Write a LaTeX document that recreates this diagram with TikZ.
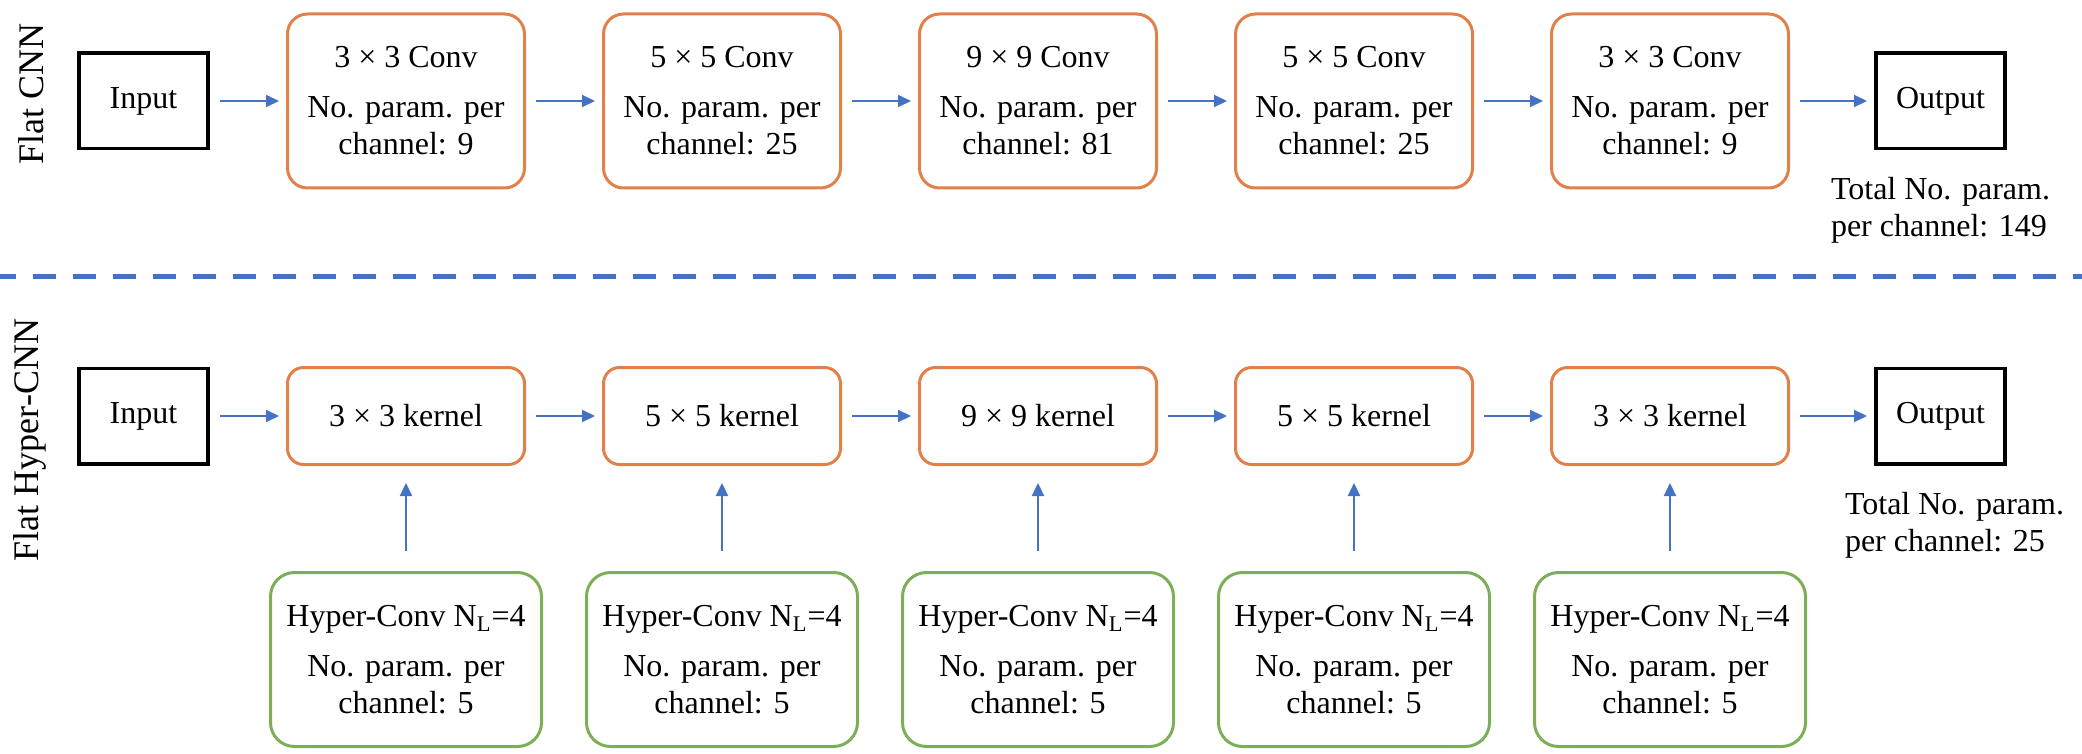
\documentclass[tikz,border=0pt]{standalone}
\usepackage{fontspec}
\setmainfont{Liberation Serif}
\newfontfamily\boxfont{Liberation Serif}
\usepackage{xcolor}
\usepackage{tikz}
\usetikzlibrary{arrows.meta,positioning}

\definecolor{convorange}{HTML}{E2804A}
\definecolor{hypgreen}{HTML}{7DAF58}
\definecolor{arrblue}{HTML}{4472C4}

\begin{document}
\begin{tikzpicture}[
  x=0.5pt, y=-0.5pt,
  node distance=38pt and 38pt,
  every node/.style={font=\boxfont\fontsize{16pt}{18.5pt}\selectfont},
  io/.style={draw, line width=1.8pt, minimum width=64.7pt, minimum height=47.7pt},
  conv/.style={draw=convorange, line width=1.5pt, rounded corners=10pt,
               align=center, minimum width=118.5pt, minimum height=87pt, inner sep=2pt},
  kern/.style={conv, rounded corners=8pt, minimum height=48.5pt},
  hyper/.style={conv, draw=hypgreen, rounded corners=12pt, minimum width=135.5pt},
  note/.style={align=left, inner sep=0pt},
  rowlab/.style={font=\boxfont\fontsize{18pt}{20pt}\selectfont, rotate=90, inner sep=0pt},
  arr/.style={-{Triangle[length=6.5pt,width=6pt]}, line width=1pt, draw=arrblue,
              shorten <=5pt, shorten >=3.5pt},
  uparr/.style={arr, shorten <=10pt, shorten >=8.5pt}
]
\useasboundingbox (0,0) rectangle (2082,754);

% top row: flat CNN
\node[rowlab] (labA) at (31,94) {Flat CNN};
\node[io] (inA) at (143.5,101) {Input};
\node[conv, right=of inA] (cA1) {3 × 3 Conv\\[6.5pt]No. param. per\\channel: 9};
\node[conv, right=of cA1] (cA2) {5 × 5 Conv\\[6.5pt]No. param. per\\channel: 25};
\node[conv, right=of cA2] (cA3) {9 × 9 Conv\\[6.5pt]No. param. per\\channel: 81};
\node[conv, right=of cA3] (cA4) {5 × 5 Conv\\[6.5pt]No. param. per\\channel: 25};
\node[conv, right=of cA4] (cA5) {3 × 3 Conv\\[6.5pt]No. param. per\\channel: 9};
\node[io, right=42pt of cA5] (outA) {Output};
\node[note, below=13pt of outA] (totA) {Total No. param.\\per channel: 149};

% separator
\draw[arrblue, line width=2.5pt, dash pattern=on 11.5pt off 8.5pt, dash phase=3.5pt]
  (0,277) -- (2082,277);

% bottom row: flat hyper-CNN
\node[rowlab] (labB) at (30,440) {Flat Hyper-CNN};
\node[io] (inB) at (143.5,416) {Input};
\node[kern, right=of inB] (kB1) {3 × 3 kernel};
\node[kern, right=of kB1] (kB2) {5 × 5 kernel};
\node[kern, right=of kB2] (kB3) {9 × 9 kernel};
\node[kern, right=of kB3] (kB4) {5 × 5 kernel};
\node[kern, right=of kB4] (kB5) {3 × 3 kernel};
\node[io, right=42pt of kB5] (outB) {Output};
\node[note, below=13pt of outB, xshift=7pt] (totB) {Total No. param.\\per channel: 25};

\node[hyper, below=52.5pt of kB1] (hB1) {Hyper-Conv N\textsubscript{L}=4\\[6.5pt]No. param. per\\channel: 5};
\node[hyper, below=52.5pt of kB2] (hB2) {Hyper-Conv N\textsubscript{L}=4\\[6.5pt]No. param. per\\channel: 5};
\node[hyper, below=52.5pt of kB3] (hB3) {Hyper-Conv N\textsubscript{L}=4\\[6.5pt]No. param. per\\channel: 5};
\node[hyper, below=52.5pt of kB4] (hB4) {Hyper-Conv N\textsubscript{L}=4\\[6.5pt]No. param. per\\channel: 5};
\node[hyper, below=52.5pt of kB5] (hB5) {Hyper-Conv N\textsubscript{L}=4\\[6.5pt]No. param. per\\channel: 5};

\draw[arr] (inA) -- (cA1);
\draw[arr] (cA1) -- (cA2);
\draw[arr] (cA2) -- (cA3);
\draw[arr] (cA3) -- (cA4);
\draw[arr] (cA4) -- (cA5);
\draw[arr] (cA5) -- (outA);

\draw[arr] (inB) -- (kB1);
\draw[arr] (kB1) -- (kB2);
\draw[arr] (kB2) -- (kB3);
\draw[arr] (kB3) -- (kB4);
\draw[arr] (kB4) -- (kB5);
\draw[arr] (kB5) -- (outB);

\draw[uparr] (hB1) -- (kB1);
\draw[uparr] (hB2) -- (kB2);
\draw[uparr] (hB3) -- (kB3);
\draw[uparr] (hB4) -- (kB4);
\draw[uparr] (hB5) -- (kB5);
\end{tikzpicture}
\end{document}
